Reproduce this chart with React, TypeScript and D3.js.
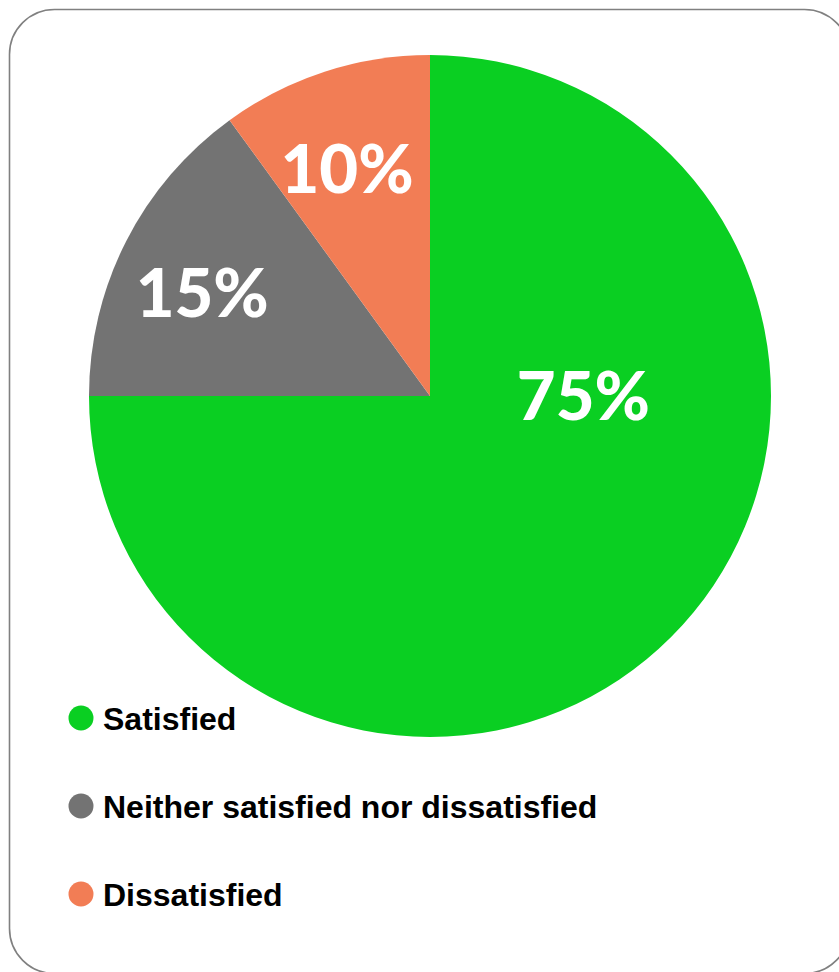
import React from "react";
import * as d3 from "d3";

const categories = ["Satisfied", "Neither satisfied nor dissatisfied", "Dissatisfied"];
const values = [75, 15, 10];
const colors = ["#0ACF22", "#737373", "#F27D55"];

const W = 839;
const H = 972;

export default function App() {
  const cx = 430;
  const cy = 396;
  const r = 341;
  const pie = d3.pie<number>().sort(null).value((d) => d);
  const arcs = pie(values);
  const arcGen = d3.arc<d3.PieArcDatum<number>>().innerRadius(0).outerRadius(r);
  const labelArc = d3.arc<d3.PieArcDatum<number>>().innerRadius(r * 0.73).outerRadius(r * 0.73);
  const total = d3.sum(values);
  const fontSize = 67;
  const legendY = d3.scalePoint<string>().domain(categories).range([718, 894]);

  return (
    <svg width={W} height={H} style={{ position: "absolute", left: 0, top: 0, background: "#fff" }}>
      <rect x={9.5} y={9.5} width={840} height={964} rx={45} ry={45} fill="#fff" stroke="#808080" strokeWidth={1.6} />
      <g transform={`translate(${cx},${cy})`}>
        {arcs.map((a, i) => (
          <path key={i} d={arcGen(a) || ""} fill={colors[i]} />
        ))}
        {arcs.map((a, i) => {
          let [x, y] = labelArc.centroid(a);
          x -= 6;
          y += 10;
          if (a.value / total > 0.5) {
            x = r * 0.45;
            y = 0;
          }
          return (
            <text
              key={"l" + i}
              x={x}
              y={y + fontSize * 0.36}
              textAnchor="middle"
              fill="#fff"
              fontFamily="Lato, 'DejaVu Sans', sans-serif"
              fontWeight={900}
              fontSize={fontSize}
            >
              {Math.round((a.value / total) * 100)}%
            </text>
          );
        })}
      </g>
      <g>
        {categories.map((c, i) => (
          <g key={c} transform={`translate(0,${legendY(c)})`}>
            <circle cx={81} cy={0} r={12.5} fill={colors[i]} />
            <text
              x={103}
              y={11.5}
              fontFamily="'Liberation Sans', Arial, sans-serif"
              fontWeight={700}
              fontSize={32}
              fill="#000"
            >
              {c}
            </text>
          </g>
        ))}
      </g>
    </svg>
  );
}
